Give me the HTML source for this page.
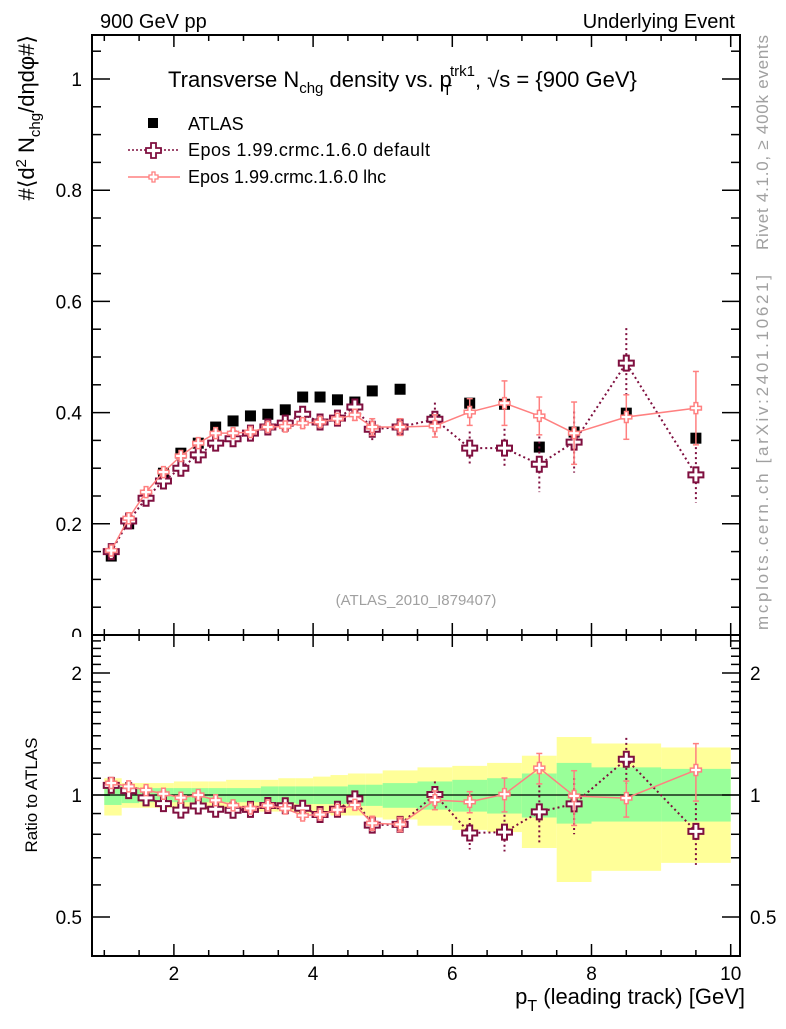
<!DOCTYPE html>
<html><head><meta charset="utf-8"><style>
body{margin:0;background:#fff}
svg{font-family:"Liberation Sans",Arial,sans-serif}
</style></head><body>
<svg id="c" width="786" height="1024" xmlns="http://www.w3.org/2000/svg"></svg>
<script>
const xs=[1.1,1.35,1.6,1.85,2.1,2.35,2.6,2.85,3.1,3.35,3.6,3.85,4.1,4.35,4.6,4.85,5.25,5.75,6.25,6.75,7.25,7.75,8.5,9.5];
const binEdges=[1,1.25,1.5,1.75,2,2.25,2.5,2.75,3,3.25,3.5,3.75,4,4.25,4.5,4.75,5,5.5,6,6.5,7,7.5,8,9,10];
const atlas=[0.142,0.200,0.250,0.291,0.327,0.345,0.374,0.385,0.394,0.397,0.405,0.428,0.428,0.423,0.419,0.439,0.442,0.387,0.417,0.415,0.338,0.365,0.399,0.354];
const epDef=[0.150,0.205,0.246,0.277,0.300,0.324,0.345,0.353,0.363,0.374,0.381,0.397,0.383,0.390,0.410,0.370,0.374,0.388,0.336,0.336,0.307,0.347,0.489,0.288];
const epDefErr=[0.003,0.003,0.004,0.004,0.004,0.005,0.005,0.005,0.006,0.006,0.007,0.008,0.008,0.009,0.012,0.02,0.015,0.03,0.03,0.035,0.05,0.055,0.063,0.05];
const epLhc=[0.152,0.210,0.257,0.293,0.322,0.345,0.363,0.363,0.365,0.374,0.375,0.381,0.383,0.389,0.396,0.374,0.374,0.376,0.401,0.417,0.394,0.363,0.392,0.408];
const epLhcErr=[0.003,0.003,0.004,0.004,0.004,0.005,0.005,0.005,0.006,0.006,0.007,0.008,0.008,0.009,0.01,0.015,0.015,0.02,0.024,0.04,0.034,0.056,0.04,0.066];
const yelHi=[1.10,1.07,1.07,1.07,1.08,1.08,1.08,1.09,1.09,1.09,1.10,1.10,1.11,1.12,1.13,1.13,1.15,1.17,1.18,1.20,1.25,1.39,1.34,1.31];
const yelLo=[0.89,0.93,0.93,0.93,0.93,0.92,0.92,0.92,0.91,0.91,0.91,0.90,0.90,0.89,0.89,0.88,0.87,0.84,0.82,0.81,0.74,0.61,0.65,0.68];
const grnHi=[1.06,1.045,1.04,1.04,1.04,1.04,1.04,1.04,1.04,1.05,1.05,1.05,1.05,1.05,1.06,1.06,1.07,1.08,1.09,1.10,1.13,1.20,1.17,1.16];
const grnLo=[0.945,0.955,0.96,0.96,0.96,0.96,0.96,0.96,0.96,0.955,0.955,0.95,0.95,0.95,0.94,0.94,0.93,0.92,0.91,0.90,0.88,0.85,0.86,0.86];
const mainTicks=["0","0.2","0.4","0.6","0.8","1"];
const ratioTicks=["0.5","1","2"];
const xTicks=["2","4","6","8","10"];

const L=92,R=740,T=35,M=635,B=956;
const X=v=>34.7+69.6*v;
const Y=v=>635-556*v;
const RY=r=>795-122*Math.log2(r);
const svg=document.getElementById('c');
const NS="http://www.w3.org/2000/svg";
function el(tag,attrs,parent){const e=document.createElementNS(NS,tag);for(const k in attrs)e.setAttribute(k,attrs[k]);(parent||svg).appendChild(e);return e;}
function txt(s,attrs,parent){const e=el('text',attrs,parent);e.textContent=s;return e;}
function clip(id,y0,y1){const cp=el('clipPath',{id:id});el('rect',{x:L,y:y0,width:R-L,height:y1-y0},cp);}
clip('cm',T,M);clip('cr',M,B);
const cpl=el('clipPath',{id:'clab'});el('rect',{x:0,y:0,width:L,height:637},cpl);

const gBand=el('g',{'clip-path':'url(#cr)'});


for(let i=0;i<xs.length;i++){
  const x0=X(binEdges[i]),x1=X(binEdges[i+1]);
  const y=el('rect',{x:x0,y:RY(yelHi[i]),width:x1-x0,height:RY(yelLo[i])-RY(yelHi[i]),fill:'#ffff99'},gBand);
  
  
  const g=el('rect',{x:x0,y:RY(grnHi[i]),width:x1-x0,height:RY(grnLo[i])-RY(grnHi[i]),fill:'#99ff99'},gBand);
  
  
}
el('line',{x1:L,x2:R,y1:RY(1),y2:RY(1),stroke:'#000','stroke-width':1.3});

function cross(cx,cy,s,stroke,parent,name){
  const a=s/6;
  const p=`M${cx-a},${cy-3*a}h${2*a}v${2*a}h${2*a}v${2*a}h${-2*a}v${2*a}h${-2*a}v${-2*a}h${-2*a}v${-2*a}h${2*a}z`;
  const e=el('path',{d:p,fill:'#fff',stroke:stroke,'stroke-width':s>12?2:1.5},parent);
  
  
}
function series(vals,errs,yf,color,dash,size,parent,name,ratio){
  const g=el('g',{},parent);
  
  
  const pts=xs.map((x,i)=>[X(x),yf(ratio?vals[i]/atlas[i]:vals[i])]);
  el('polyline',{points:pts.map(p=>p.join(',')).join(' '),fill:'none',stroke:color,'stroke-width':dash?2:1.5,'stroke-dasharray':dash?'2,3':'none'},g);
  xs.forEach((x,i)=>{
    const v=ratio?vals[i]/atlas[i]:vals[i], e=ratio?errs[i]/atlas[i]:errs[i];
    const y1=yf(v+e),y2=yf(v-e),cx=X(x);
    el('line',{x1:cx,x2:cx,y1:y1,y2:y2,stroke:color,'stroke-width':dash?2:1.5,'stroke-dasharray':dash?'2,3':'none'},g);
    if(!dash){el('line',{x1:cx-3,x2:cx+3,y1:y1,y2:y1,stroke:color,'stroke-width':1.5},g);el('line',{x1:cx-3,x2:cx+3,y1:y2,y2:y2,stroke:color,'stroke-width':1.5},g);}
    cross(cx,yf(v),size,color,g,name+'-marker');
  });
}
const gm=el('g',{'clip-path':'url(#cm)'});


xs.forEach((x,i)=>{const r=el('rect',{x:X(x)-5.5,y:Y(atlas[i])-5.5,width:11,height:11,fill:'#000'},gm);

});
series(epDef,epDefErr,Y,'#7f0f3f',true,15,gm,'epos-default',false);
series(epLhc,epLhcErr,Y,'#ff8080',false,11,gm,'epos-lhc',false);
const gr=el('g',{'clip-path':'url(#cr)'});


series(epDef,epDefErr,RY,'#7f0f3f',true,15,gr,'ratio-epos-default',true);
series(epLhc,epLhcErr,RY,'#ff8080',false,11,gr,'ratio-epos-lhc',true);

el('rect',{x:L,y:T,width:R-L,height:M-T,fill:'none',stroke:'#000','stroke-width':2});
el('rect',{x:L,y:M,width:R-L,height:B-M,fill:'none',stroke:'#000','stroke-width':2});
const tk={stroke:'#000','stroke-width':1.5};
for(let k=0;k<=21;k++){const v=k*0.05,y=Y(v);if(y<T)continue;const len=k%4==0?18:9;
 el('line',{x1:L,x2:L+len,y1:y,y2:y,...tk});el('line',{x1:R,x2:R-len,y1:y,y2:y,...tk});}
const gl=el('g',{'clip-path':'url(#clab)'});
mainTicks.forEach((s,i)=>{const t=txt(s,{x:82,y:Y(i*0.2)+7,'font-size':19,'text-anchor':'end'},gl);

});
for(let k=2;k<=20;k++){const v=k*0.5,x=X(v);const big=k%4==0;
 [[B,-1],[M,1],[M,-1],[T,1]].forEach(([y0,d])=>el('line',{x1:x,x2:x,y1:y0,y2:y0+d*(big?12:6),...tk}));}
xTicks.forEach((s,i)=>{const t=txt(s,{x:X(2+2*i),y:980,'font-size':19,'text-anchor':'middle'});

});
[0.5,0.6,0.7,0.8,0.9,1,1.1,1.2,1.3,1.4,1.5,1.6,1.7,1.8,1.9,2,2.1,2.2,2.3,2.4].forEach(r=>{const y=RY(r);const big=(r==0.5||r==1||r==2);const len=big?18:9;
 el('line',{x1:L,x2:L+len,y1:y,y2:y,...tk});el('line',{x1:R,x2:R-len,y1:y,y2:y,...tk});});
ratioTicks.forEach(s=>{const y=RY(parseFloat(s))+7;
 const a=txt(s,{x:82,y:y,'font-size':19,'text-anchor':'end'});
 
 
 const b=txt(s,{x:750,y:y,'font-size':19});
 
 });
</script>
<div style="position:absolute;left:0;top:0;width:786px;height:1024px;pointer-events:none">
<svg width="786" height="1024" xmlns="http://www.w3.org/2000/svg" style="font-family:'Liberation Sans',Arial,sans-serif">
<text x="100" y="28" font-size="20">900 GeV pp</text>
<text x="735" y="28" font-size="20" text-anchor="end">Underlying Event</text>
<text x="168" y="87" font-size="22">Transverse N<tspan font-size="15" dy="6">chg</tspan><tspan dy="-6"> density vs. p</tspan><tspan font-size="15" dx="-9" dy="8">T</tspan><tspan font-size="15" dx="-2" dy="-19">trk1</tspan><tspan dy="11">, √s = {900 GeV}</tspan></text>
<g>
<rect x="148" y="118" width="10" height="10" fill="#000"/>
<text x="188" y="130" font-size="18">ATLAS</text>
<line x1="128" x2="180" y1="150" y2="150" stroke="#7f0f3f" stroke-width="1.5" stroke-dasharray="2,2"/>
<path d="M151,143h5v5h5v5h-5v5h-5v-5h-5v-5h5z" fill="#fff" stroke="#7f0f3f" stroke-width="1.8"/>
<text x="188" y="156" font-size="18" textLength="242">Epos 1.99.crmc.1.6.0 default</text>
<line x1="128" x2="180" y1="177" y2="177" stroke="#ff8080" stroke-width="1.5"/>
<path d="M152,172h3v3h3v4h-3v3h-3v-3h-3v-4h3z" fill="#fff" stroke="#ff8080" stroke-width="1.3"/>
<text x="188" y="183" font-size="18">Epos 1.99.crmc.1.6.0 lhc</text>
</g>
<text x="416" y="605" font-size="15" fill="#a0a0a0" text-anchor="middle">(ATLAS_2010_I879407)</text>
<text transform="translate(34,35) rotate(-90)" font-size="22" text-anchor="end">#⟨d<tspan font-size="15" dy="-8">2</tspan><tspan dy="8"> N</tspan><tspan font-size="15" dy="6">chg</tspan><tspan dy="-6">/dηdφ#⟩</tspan></text>
<text transform="translate(37,795) rotate(-90)" font-size="17" text-anchor="middle">Ratio to ATLAS</text>
<text x="745" y="1004" font-size="22" text-anchor="end">p<tspan font-size="16" dy="7">T</tspan><tspan dy="-7"> (leading track) [GeV]</tspan></text>
<text transform="translate(768,35) rotate(-90)" font-size="17" fill="#a0a0a0" text-anchor="end" textLength="215">Rivet 4.1.0, ≥ 400k events</text>
<text transform="translate(768,630) rotate(-90)" font-size="17" fill="#a0a0a0" textLength="355">mcplots.cern.ch [arXiv:2401.10621]</text>
</svg></div>
</body></html>
